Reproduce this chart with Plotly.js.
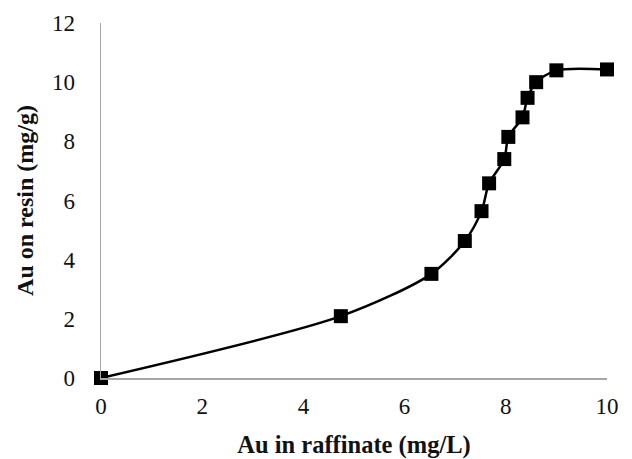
<!DOCTYPE html>
<html><head><meta charset="utf-8">
<script src="https://cdn.plot.ly/plotly-3.0.1.min.js"></script>
<style>html,body{margin:0;padding:0;background:#fff}#c{width:632px;height:459px}</style>
</head><body><div id="c"></div>
<script>
var auRaffinate = [0, 4.74, 6.53, 7.19, 7.52, 7.67, 7.97, 8.05, 8.33, 8.43, 8.60, 9.0, 10.0];
var auResin = [0, 2.09, 3.52, 4.63, 5.64, 6.58, 7.40, 8.15, 8.81, 9.47, 10.0, 10.40, 10.43];
var xTicks = [0, 2, 4, 6, 8, 10];
var yTicks = [0, 2, 4, 6, 8, 10, 12];

var font = 'Liberation Serif, Times New Roman, serif';
Plotly.newPlot('c', [{
  x: auRaffinate, y: auResin, type: 'scatter', mode: 'lines+markers',
  line: {color: '#000', width: 2.5, shape: 'spline', smoothing: 0.8},
  marker: {symbol: 'square', size: 14, color: '#000'},
  cliponaxis: false
}], {
  width: 632, height: 459,
  margin: {l: 101, r: 25, t: 23, b: 81},
  paper_bgcolor: '#fff', plot_bgcolor: '#fff',
  showlegend: false,
  font: {family: font, size: 23, color: '#111'},
  xaxis: {
    range: [0, 10], tickvals: xTicks, ticktext: xTicks.map(String),
    showgrid: false, zeroline: false, showline: true, linecolor: '#a6a6a6', linewidth: 1.5,
    ticks: '', ticklabelstandoff: 7,
    title: {text: '<b>Au in raffinate (mg/L)</b>', font: {family: font, size: 24.5, color: '#111'}, standoff: 18}
  },
  yaxis: {
    range: [0, 12], tickvals: yTicks, ticktext: yTicks.map(String),
    showgrid: false, zeroline: false, showline: true, linecolor: '#a6a6a6', linewidth: 1.5,
    ticks: '', ticklabelstandoff: 20,
    title: {text: '<b>Au on resin (mg/g)</b>', font: {family: font, size: 24, color: '#111'}, standoff: 11}
  }
}, {staticPlot: true});
</script></body></html>
